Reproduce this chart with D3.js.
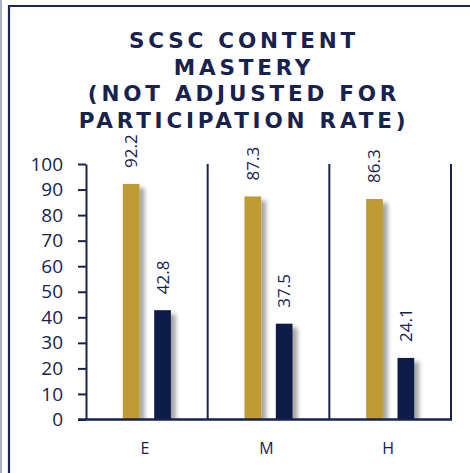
<!DOCTYPE html>
<html>
<head>
<meta charset="utf-8">
<script src="https://cdn.jsdelivr.net/npm/d3@7"></script>
<style>
  html, body { margin: 0; padding: 0; background: #fff; }
  svg { display: block; }
</style>
</head>
<body>
<div id="container"></div>
<script>
"use strict";

const categories = ["E", "M", "H"];
const seriesNames = ["Series 1", "Series 2"];
const goldValues = [92.2, 87.3, 86.3];
const navyValues = [42.8, 37.5, 24.1];
const yTicks = [0, 10, 20, 30, 40, 50, 60, 70, 80, 90, 100];
const titleLines = ["SCSC CONTENT", "MASTERY", "(NOT ADJUSTED FOR", "PARTICIPATION RATE)"];

const width = 470;
const height = 473;
const textColor = "#17224e";
const colors = ["#bf9b30", "#111e49"];

const svg = d3.select("#container")
  .append("svg")
  .attr("width", width)
  .attr("height", height);

const plot = { left: 86, right: 451, top: 164, bottom: 419.5 };

// soft shadow to the right of bars, clipped at the axis
const defs = svg.append("defs");
const shadow = defs.append("filter")
  .attr("id", "shadow")
  .attr("x", "-20%").attr("y", "-10%")
  .attr("width", "200%").attr("height", "130%");
shadow.append("feDropShadow")
  .attr("dx", 5).attr("dy", 4)
  .attr("stdDeviation", 2.2)
  .attr("flood-color", "#000")
  .attr("flood-opacity", 0.35);
defs.append("clipPath")
  .attr("id", "plotClip")
  .append("rect")
  .attr("x", 0).attr("y", 0)
  .attr("width", width).attr("height", plot.bottom);

// outer frame
svg.append("line")
  .attr("x1", 1).attr("x2", 1).attr("y1", 0).attr("y2", height)
  .attr("stroke", "#aab1c8").attr("stroke-width", 2);
svg.append("path")
  .attr("d", `M9,${height} V6 H${width}`)
  .attr("fill", "none")
  .attr("stroke", "#1c2757")
  .attr("stroke-width", 2.2);

// title
const title = svg.append("text")
  .attr("text-anchor", "middle")
  .style("font-family", "'DejaVu Sans', Verdana, sans-serif")
  .style("font-weight", "bold")
  .style("font-size", "21.5px")
  .style("letter-spacing", "3.8px")
  .attr("fill", textColor);
titleLines.forEach((t, i) => {
  title.append("tspan")
    .attr("x", 244)
    .attr("y", 48 + i * 26.6)
    .text(t);
});

const x = d3.scaleBand()
  .domain(categories)
  .range([plot.left, plot.right])
  .padding(0);

const xInner = d3.scaleBand()
  .domain(seriesNames)
  .range([0, x.bandwidth()])
  .paddingInner(0.468)
  .paddingOuter(1.172);

const y = d3.scaleLinear()
  .domain([0, 100])
  .range([plot.bottom, plot.top]);

// y axis
const yAxis = svg.append("g")
  .attr("transform", `translate(${plot.left},0)`)
  .call(d3.axisLeft(y).tickValues(yTicks).tickSize(8).tickPadding(15).tickSizeOuter(0));
yAxis.select(".domain").attr("stroke", textColor).attr("stroke-width", 2);
yAxis.selectAll(".tick line").attr("stroke", textColor).attr("stroke-width", 2);
yAxis.selectAll(".tick text")
  .attr("fill", textColor)
  .style("font-family", "'Open Sans', sans-serif")
  .style("font-size", "19px");

// category separators
svg.append("g").selectAll("line")
  .data(categories)
  .join("line")
  .attr("x1", (d) => x(d) + x.bandwidth())
  .attr("x2", (d) => x(d) + x.bandwidth())
  .attr("y1", plot.top)
  .attr("y2", plot.bottom)
  .attr("stroke", textColor)
  .attr("stroke-width", 2);

// category labels
svg.append("g").selectAll("text")
  .data(categories)
  .join("text")
  .attr("x", (d) => x(d) + x.bandwidth() / 2 - 2)
  .attr("y", 454)
  .attr("text-anchor", "middle")
  .attr("fill", textColor)
  .style("font-family", "'Open Sans', sans-serif")
  .style("font-size", "16px")
  .text((d) => d);

// bars
const rows = [];
categories.forEach((c, i) => {
  rows.push({ cat: c, series: seriesNames[0], value: goldValues[i], color: colors[0] });
  rows.push({ cat: c, series: seriesNames[1], value: navyValues[i], color: colors[1] });
});

const bars = svg.append("g").attr("clip-path", "url(#plotClip)");
bars.selectAll("rect")
  .data(rows)
  .join("rect")
  .attr("x", (d) => x(d.cat) + xInner(d.series))
  .attr("y", (d) => y(d.value))
  .attr("width", xInner.bandwidth())
  .attr("height", (d) => y(0) - y(d.value))
  .attr("fill", (d) => d.color)
  .attr("filter", "url(#shadow)");

// x axis line
svg.append("line")
  .attr("x1", plot.left - 8).attr("x2", plot.right + 1)
  .attr("y1", plot.bottom).attr("y2", plot.bottom)
  .attr("stroke", textColor)
  .attr("stroke-width", 2.5);

// value labels
svg.append("g").selectAll("text")
  .data(rows)
  .join("text")
  .attr("transform", (d) => {
    const cx = x(d.cat) + xInner(d.series) + xInner.bandwidth() / 2;
    return `translate(${cx + 6},${y(d.value) - 16}) rotate(-90)`;
  })
  .attr("fill", textColor)
  .style("font-family", "'Open Sans', sans-serif")
  .style("font-size", "17px")
  .text((d) => d.value.toFixed(1));
</script>
</body>
</html>
